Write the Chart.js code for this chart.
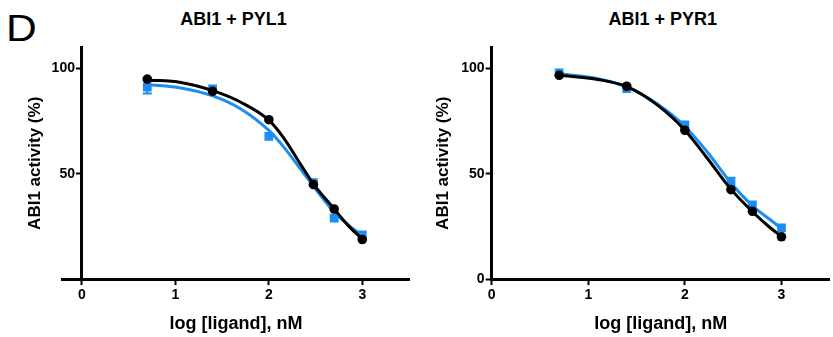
<!DOCTYPE html>
<html>
<head>
<meta charset="utf-8">
<script src="https://cdn.jsdelivr.net/npm/chart.js@4/dist/chart.umd.min.js"></script>
<style>
  html, body { margin: 0; padding: 0; background: #fff; overflow: hidden; }
  #wrap { position: relative; width: 833px; height: 337px; overflow: hidden; font-family: "Liberation Sans", Arial, sans-serif; }
  .panel { position: absolute; top: 0; height: 337px; }
  .ttl { position: absolute; font-weight: bold; font-size: 18px; line-height: 18px; white-space: nowrap; transform: translateX(-50%); color: #000; }
  #letter { position: absolute; left: 6px; top: 10px; font-size: 37px; line-height: 37px; color: #000; transform: scaleX(1.15); transform-origin: left top; }
</style>
</head>
<body>
<div id="wrap">
  <div id="letter">D</div>
  <div class="ttl" style="left:233.5px; top:10px;">ABI1 + PYL1</div>
  <div class="ttl" style="left:662.8px; top:10px;">ABI1 + PYR1</div>
  <div class="panel" style="left:0; width:420px;"><canvas id="c1"></canvas></div>
  <div class="panel" style="left:420px; width:416px;"><canvas id="c2"></canvas></div>
</div>
<script>
// ---- data ----
const panelTitles = ["ABI1 + PYL1", "ABI1 + PYR1"];
const xTitle = "log [ligand], nM";
const yTitle = "ABI1 activity (%)";
const xTicks = [0, 1, 2, 3];
const yTicks = [0, 50, 100];

// measured points: log concentration (5, 25, 100, 300, 500, 1000 nM)
const logConc = [0.699, 1.398, 2.0, 2.477, 2.699, 3.0];

// ABI1 + PYL1
const pyl1Black = [95.0, 89.2, 75.7, 44.9, 33.3, 18.8];
const pyl1Blue  = [91.2, 90.3, 67.8, 45.8, 29.0, 21.0];
const pyl1BlueErr = [3.0, 0, 0, 0, 0, 0];
const pyl1CurveX = [0.7, 1.06, 1.4, 1.7, 2.0, 2.16, 2.35, 2.48, 2.7, 2.85, 3.0];
const pyl1BlackCurve = [94.6, 93.4, 89.5, 84.0, 75.5, 67.0, 53.8, 45.0, 33.3, 25.4, 19.0];
const pyl1BlueCurve  = [92.4, 90.8, 87.0, 80.8, 70.6, 62.7, 51.6, 44.0, 31.8, 25.8, 20.6];

// ABI1 + PYR1
const pyr1Black = [96.8, 91.6, 70.7, 42.5, 32.2, 20.1];
const pyr1Blue  = [97.9, 90.5, 73.3, 46.5, 35.2, 24.3];
const pyr1BlueErr = [0, 0, 0, 0, 0, 0];
const pyr1CurveX = [0.7, 1.1, 1.4, 1.72, 2.0, 2.23, 2.48, 2.7, 2.88, 3.0];
const pyr1BlackCurve = [96.8, 94.8, 91.4, 82.5, 70.7, 57.5, 42.5, 32.0, 24.5, 20.2];
const pyr1BlueCurve  = [97.5, 95.2, 91.3, 83.0, 72.5, 60.5, 45.5, 34.8, 28.3, 24.0];

// ---- styles ----
const BLACK = "#000000";
const BLUE = "#1b8ef4";
const FONT = "'Liberation Sans', Arial, sans-serif";

function pts(xs, ys) { return xs.map((x, i) => ({ x: x, y: ys[i] })); }

const errorBarPlugin = {
  id: "errorBars",
  beforeDatasetsDraw(chart, args, opts) {
    const { ctx, scales } = chart;
    const list = opts.bars || [];
    ctx.save();
    list.forEach(b => {
      ctx.strokeStyle = b.color;
      ctx.lineWidth = 2;
      b.y.forEach((v, i) => {
        const e = b.err[i];
        if (!e) return;
        const px = scales.x.getPixelForValue(b.x[i]);
        const pTop = scales.y.getPixelForValue(v + e);
        const pBot = scales.y.getPixelForValue(v - e);
        ctx.beginPath();
        ctx.moveTo(px, pTop); ctx.lineTo(px, pBot);
        ctx.moveTo(px - 4.5, pTop); ctx.lineTo(px + 4.5, pTop);
        ctx.moveTo(px - 4.5, pBot); ctx.lineTo(px + 4.5, pBot);
        ctx.stroke();
      });
    });
    ctx.restore();
  }
};

// GraphPad-style: the x axis line (and its centred title) starts a little left of the y axis
const axisExtendPlugin = {
  id: "axisExtend",
  afterLayout(chart, args, opts) {
    if (opts.length) chart.scales.x.left = chart.chartArea.left - opts.length;
  }
};

function makeChart(id, cfg) {
  const datasets = [
    { label: "black fit", data: pts(cfg.curveX, cfg.blackCurve), showLine: true, borderColor: BLACK, borderWidth: 3, pointRadius: 0, cubicInterpolationMode: "monotone", fill: false },
    { label: "black", data: pts(logConc, cfg.black), showLine: false, pointStyle: "circle", pointRadius: 4.8, backgroundColor: BLACK, borderColor: BLACK, borderWidth: 0 },
    { label: "blue fit", data: pts(cfg.curveX, cfg.blueCurve), showLine: true, borderColor: BLUE, borderWidth: 3, pointRadius: 0, cubicInterpolationMode: "monotone", fill: false },
    { label: "blue", data: pts(logConc, cfg.blue), showLine: false, pointStyle: "rect", pointRadius: 6.2, backgroundColor: BLUE, borderColor: BLUE, borderWidth: 0 }
  ];
  return new Chart(document.getElementById(id), {
    type: "scatter",
    data: { datasets },
    plugins: [errorBarPlugin, axisExtendPlugin],
    options: {
      responsive: true,
      maintainAspectRatio: false,
      animation: false,
      devicePixelRatio: 1,
      layout: { padding: { left: cfg.padLeft, top: 47.5, right: cfg.padRight, bottom: 0 } },
      plugins: {
        legend: { display: false },
        tooltip: { enabled: false },
        title: { display: false },
        errorBars: { bars: [{ x: logConc, y: cfg.blue, err: cfg.blueErr, color: BLUE }] },
        axisExtend: { length: cfg.extend }
      },
      scales: {
        x: {
          type: "linear", min: 0, max: 3.5,
          border: { display: true, color: BLACK, width: 3 },
          grid: { drawOnChartArea: false, drawTicks: true, tickLength: 6, tickWidth: 2, tickColor: BLACK },
          afterBuildTicks: s => { s.ticks = xTicks.map(v => ({ value: v })); },
          ticks: { color: BLACK, padding: 2, font: { family: FONT, size: 14, weight: "bold" }, maxRotation: 0 },
          title: { display: true, text: xTitle, color: BLACK, font: { family: FONT, size: 18, weight: "bold" }, padding: { top: 7, bottom: 2.5 } }
        },
        y: {
          type: "linear", min: 0, max: 110,
          border: { display: true, color: BLACK, width: 3 },
          grid: { drawOnChartArea: false, drawTicks: true, tickLength: 6, tickWidth: 2, tickColor: BLACK },
          afterBuildTicks: s => { s.ticks = yTicks.map(v => ({ value: v })); },
          ticks: { color: BLACK, padding: 1, font: { family: FONT, size: 14, weight: "bold" },
                   callback: v => (v === 0 && !cfg.showZero) ? "" : String(v) },
          title: { display: true, text: yTitle, color: BLACK, font: { family: FONT, size: 17, weight: "bold" }, padding: { top: 0, bottom: cfg.yTitlePad } }
        }
      }
    }
  });
}

makeChart("c1", {
  black: pyl1Black, blue: pyl1Blue, blueErr: pyl1BlueErr,
  curveX: pyl1CurveX, blackCurve: pyl1BlackCurve, blueCurve: pyl1BlueCurve,
  padLeft: 25.3, padRight: 11, yTitlePad: 4.9, showZero: false, extend: 19
});
makeChart("c2", {
  black: pyr1Black, blue: pyr1Blue, blueErr: pyr1BlueErr,
  curveX: pyr1CurveX, blackCurve: pyr1BlackCurve, blueCurve: pyr1BlueCurve,
  padLeft: 13, padRight: 0, yTitlePad: 6.9, showZero: true, extend: 0
});
</script>
</body>
</html>
